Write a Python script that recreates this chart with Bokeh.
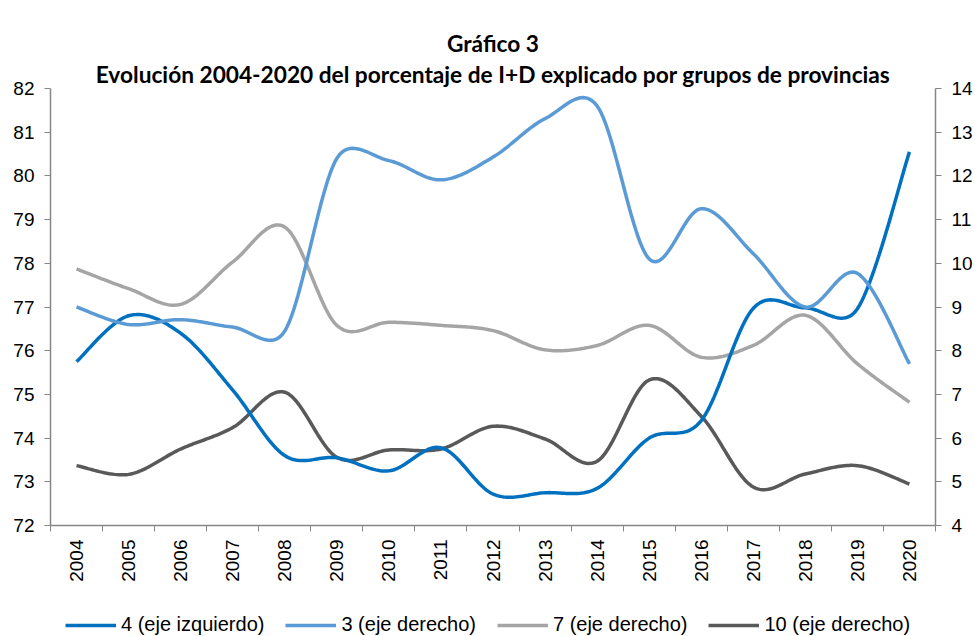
import numpy as np
from bokeh.plotting import figure
from bokeh.layouts import column
from bokeh.models import (Range1d, LinearAxis, FixedTicker, Legend, LegendItem, Title)
from bokeh.embed import file_html
from bokeh.resources import INLINE

years = ["2004", "2005", "2006", "2007", "2008", "2009", "2010", "2011", "2012",
         "2013", "2014", "2015", "2016", "2017", "2018", "2019", "2020"]
g4 = [75.75, 76.8, 76.4, 75.1, 73.6, 73.55, 73.25, 73.78, 72.72, 72.75, 72.85,
      74.0, 74.4, 76.97, 76.98, 76.96, 80.55]
g3 = [9.0, 8.6, 8.71, 8.54, 8.45, 12.4, 12.35, 11.91, 12.43, 13.31, 13.6,
      10.1, 11.25, 10.22, 9.0, 9.77, 7.7]
g7 = [9.87, 9.42, 9.06, 10.03, 10.83, 8.58, 8.65, 8.58, 8.46, 8.02, 8.12,
      8.58, 7.85, 8.12, 8.81, 7.7, 6.82]
g10 = [5.37, 5.17, 5.75, 6.24, 7.05, 5.56, 5.73, 5.75, 6.27, 5.98, 5.47,
       7.33, 6.5, 4.88, 5.18, 5.37, 4.95]
series_labels = ["4 (eje izquierdo)", "3 (eje derecho)", "7 (eje derecho)", "10 (eje derecho)"]
left_ticks = [72, 73, 74, 75, 76, 77, 78, 79, 80, 81, 82]
right_ticks = [4, 5, 6, 7, 8, 9, 10, 11, 12, 13, 14]

W = 975
H_MAIN, H_LEG = 604, 32
ML, MR, MT = 50, 40, 88
MB = H_MAIN - 525
FW = W - ML - MR
FH = H_MAIN - MT - MB
PX_X = FW / len(years)
PX_Y = FH / 10.0


def smooth(xs, ys, sy, n=24):
    """Excel-like smoothed line (Bezier with limited control arms), in pixel space."""
    p = np.column_stack([np.asarray(xs, float) * PX_X, np.asarray(ys, float) * sy])
    ext = np.vstack([p[0], p, p[-1]])
    out = []
    t = np.linspace(0, 1, n, endpoint=False)[:, None]
    for i in range(len(p) - 1):
        P0, P1, P2, P3 = ext[i], ext[i + 1], ext[i + 2], ext[i + 3]
        d12 = np.hypot(*(P2 - P1))
        d02 = np.hypot(*(P2 - P0))
        d13 = np.hypot(*(P3 - P1))
        f1 = 1 / 6 if d02 / 6 < d12 / 2 else d12 / (2 * d02)
        f2 = 1 / 6 if d13 / 6 < d12 / 2 else d12 / (2 * d13)
        c1 = P1 + f1 * (P2 - P0)
        c2 = P2 - f2 * (P3 - P1)
        b = ((1 - t) ** 3) * P1 + 3 * ((1 - t) ** 2) * t * c1 + 3 * (1 - t) * t ** 2 * c2 + t ** 3 * P2
        out.append(b)
    out.append(p[-1][None, :])
    a = np.vstack(out)
    return a[:, 0] / PX_X, a[:, 1] / sy


xpos = list(range(1, len(years) + 1))

p = figure(width=W, height=H_MAIN, x_range=Range1d(0.5, len(years) + 0.5),
           y_range=Range1d(72, 82), x_axis_type=None, y_axis_type=None,
           output_backend="svg", toolbar_location=None,
           min_border_left=ML, min_border_right=MR, min_border_top=MT,
           min_border_bottom=MB, outline_line_color=None)
p.extra_y_ranges = {"right": Range1d(4, 14)}

TICK_FONT = "Liberation Sans"
AX_COLOR = "#868686"

xaxis = LinearAxis(ticker=FixedTicker(ticks=xpos, minor_ticks=[x - 0.5 for x in xpos] + [len(years) + 0.5]),
                   major_label_overrides={x: y for x, y in zip(xpos, years)},
                   major_label_orientation=np.pi / 2,
                   major_tick_line_color=None,
                   minor_tick_line_color=AX_COLOR, minor_tick_out=6, minor_tick_in=0,
                   minor_tick_line_width=1,
                   axis_line_color=AX_COLOR, axis_line_width=1.5,
                   major_label_text_font=TICK_FONT, major_label_text_font_size="19px",
                   major_label_text_color="black", major_label_standoff=8)
p.add_layout(xaxis, "below")

laxis = LinearAxis(ticker=FixedTicker(ticks=left_ticks),
                   major_tick_line_color=AX_COLOR, major_tick_out=6, major_tick_in=0,
                   minor_tick_line_color=None, axis_line_color=AX_COLOR, axis_line_width=1.5,
                   major_label_text_font=TICK_FONT, major_label_text_font_size="19px",
                   major_label_text_color="black", major_label_standoff=10)
p.add_layout(laxis, "left")

raxis = LinearAxis(y_range_name="right", ticker=FixedTicker(ticks=right_ticks),
                   major_tick_line_color=AX_COLOR, major_tick_out=6, major_tick_in=0,
                   minor_tick_line_color=None, axis_line_color=AX_COLOR, axis_line_width=1.5,
                   major_label_text_font=TICK_FONT, major_label_text_font_size="19px",
                   major_label_text_color="black", major_label_standoff=10)
p.add_layout(raxis, "right")

LW = 3.5
COLORS = {"4": "#0070C0", "3": "#5B9BD5", "7": "#A5A5A5", "10": "#595959"}
x3, y3 = smooth(xpos, g3, PX_Y)
x7, y7 = smooth(xpos, g7, PX_Y)
x10, y10 = smooth(xpos, g10, PX_Y)
x4, y4 = smooth(xpos, g4, PX_Y)
p.line(x10, y10, line_color=COLORS["10"], line_width=LW, y_range_name="right")
p.line(x7, y7, line_color=COLORS["7"], line_width=LW, y_range_name="right")
p.line(x4, y4, line_color=COLORS["4"], line_width=LW)
p.line(x3, y3, line_color=COLORS["3"], line_width=LW, y_range_name="right")

TITLE_FONT = "Lato"
p.add_layout(Title(text="Evolución 2004-2020 del porcentaje de I+D explicado por grupos de provincias",
                   align="center", text_font=TITLE_FONT, text_font_size="22.7px", standoff=2,
                   text_font_style="bold", text_color="black"), "above")
p.add_layout(Title(text="Gráfico 3", align="center", text_font=TITLE_FONT, standoff=2,
                   text_font_size="22.7px", text_font_style="bold", text_color="black"), "above")

# legend strip below the chart; its key renderers use the same series but lie
# outside this strip's visible range, so only the legend keys are shown
pl = figure(width=W, height=H_LEG, x_range=Range1d(-20, -19), y_range=Range1d(-20, -19),
            x_axis_type=None, y_axis_type=None, output_backend="svg",
            toolbar_location=None, outline_line_color=None,
            min_border_left=ML, min_border_right=MR, min_border_top=0, min_border_bottom=0)
items = []
for lab, key, (xx, yy) in zip(series_labels, ["4", "3", "7", "10"],
                              [(x4, y4), (x3, y3), (x7, y7), (x10, y10)]):
    rr = pl.line(xx, yy, line_color=COLORS[key], line_width=LW)
    items.append(LegendItem(label=lab, renderers=[rr]))
legend = Legend(items=items, orientation="horizontal", location=(15, 0),
                glyph_width=51, glyph_height=22, label_height=22, label_standoff=5, spacing=21,
                padding=0, margin=0, border_line_color=None, background_fill_alpha=0,
                label_text_font=TICK_FONT, label_text_font_size="20px",
                label_text_color="black")
pl.add_layout(legend, "center")

layout = column(p, pl, spacing=0)
open("out.html", "w").write(file_html(layout, INLINE))
